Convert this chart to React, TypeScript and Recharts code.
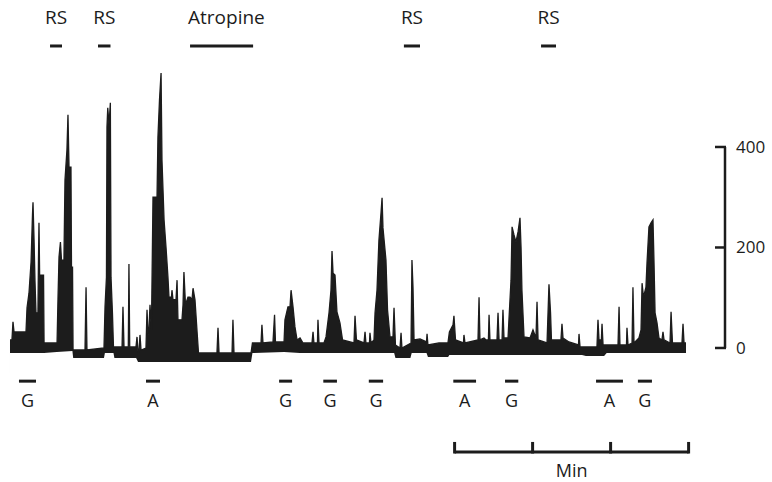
import React from "react";
import { ComposedChart, Area, XAxis, YAxis, ReferenceLine } from "recharts";

// upper edge of the pen trace: [time s, tension]
const upperEdge: [number, number][] = [
  [0, 16], [1.5, 16], [2.3, 52], [3.1, 32], [12.3, 32], [13.1, 80], [14.6, 109], [16.2, 171],
  [17.3, 265], [17.7, 290], [18.5, 215], [19.2, 135], [20, 70], [21.5, 70], [21.9, 175], [22.3, 249],
  [22.8, 145], [25.8, 145], [26.2, 10], [36.2, 10],
  [36.9, 96], [37.7, 181], [38.8, 211], [39.6, 175], [41.5, 175], [42.3, 334], [43.8, 394], [44.6, 464],
  [45.4, 360], [46.9, 360], [47.3, 161], [48.1, 161], [48.5, -4], [57.7, -4], [58.5, 121], [59.2, -4], [72.3, 0],
  [73.1, 82], [74.2, 141], [74.6, 440], [75.2, 478], [76.2, 444], [77.2, 488], [77.7, 141], [78.8, 70],
  [79.6, 2], [86.2, 2], [86.9, 82], [87.7, 2], [91, 2], [91.5, 167], [92.1, 2], [96.9, 2], [97.7, 22], [98.5, -8],
  [99.2, -8], [100, 26], [100.8, -4], [104.6, 0], [105.4, 76], [106.2, 26], [106.9, 36], [107.7, 86],
  [108.8, 36], [110, 300], [113.1, 300], [113.8, 420], [115, 494], [116.2, 547], [116.9, 374], [118.5, 255],
  [120, 201], [121.5, 141], [122.3, 101], [124.2, 101], [124.6, 115], [125.4, 96], [127.7, 96], [128.5, 135],
  [129.2, 56], [132.3, 56], [133.1, 86], [133.8, 151], [135, 86], [136.9, 101], [138.5, 101], [140, 96],
  [140.8, 119], [142.3, 96], [143.8, 36], [145, -10],
  [159.2, -10], [160, 40], [160.8, -10], [170.8, -10], [171.5, 56], [172.3, -10], [185.4, -10], [186.5, 10],
  [193.1, 10], [193.8, 46], [194.6, 10], [202.3, 12], [203.5, 66], [204.2, 12], [210.8, 12],
  [211.5, 56], [213.8, 82], [215.4, 82], [216.2, 115], [217.7, 82], [219.2, 42], [220.8, 16], [223.1, 20],
  [225.4, 10], [232.3, 10], [233.1, 32], [233.8, 10], [236.5, 10], [236.9, 56], [237.7, 10], [241.5, 10],
  [243.1, 22], [245.4, 70], [246.9, 115], [247.7, 193], [248.5, 149], [250, 145], [251.5, 72], [253.8, 50],
  [255.8, 16], [264.6, 10], [265.4, 64], [266.5, 16], [272.3, 10], [273.1, 32], [273.8, 10], [276.5, 10],
  [276.9, 30], [277.7, 10],
  [280, 16], [280.8, 70], [282.3, 115], [283.8, 215], [285.4, 269], [286.2, 299], [286.9, 239], [289.2, 175],
  [290.4, 76], [292.3, 22], [294.6, 22], [295.4, 80], [296.5, 6], [300, 0], [300.8, 30], [301.5, 0],
  [308.5, 10], [309.2, 175], [310, 121], [310.8, 16], [315.4, 18], [320.4, 12], [320.8, 28], [321.5, 6],
  [330, 10], [336.9, 10], [338, 32], [340.8, 46], [341.5, 64], [342.7, 16], [348.8, 10], [349.2, 26], [350, 10],
  [360, 16], [360.8, 101], [361.5, 16], [364.6, 20], [366.2, 16], [368, 16], [368.5, 66], [369.2, 16],
  [374.6, 16], [375.4, 70], [376.2, 16], [378.5, 16], [379.2, 76], [380, 20], [383.1, 20],
  [383.8, 56], [385.4, 135], [386.2, 241], [387.7, 225], [389.2, 211], [390.8, 231], [392.3, 259], [393.1, 201],
  [393.8, 115], [395.4, 22], [400, 20], [402.3, 36], [404.6, 20], [405.4, 92], [406.2, 16],
  [413.1, 10], [414.2, 96], [414.6, 127], [415.8, 70], [416.5, 16], [423.8, 16], [424.6, 48], [425.4, 20],
  [430, 12], [437.3, 6], [437.7, 28], [438.5, 2], [451.5, 2], [452.3, 56], [453.1, 16], [454.9, 16],
  [455.4, 48], [456.2, 6],
  [467.7, 6], [468.5, 82], [469.2, 6], [474.2, 6], [474.6, 40], [475.4, 6], [478.5, 10], [479.2, 121],
  [480, 10], [483.8, 20], [485.4, 36], [486.2, 129], [487.3, 101], [489.2, 121], [490, 169], [491.5, 241],
  [493.1, 249], [494.6, 255], [495.4, 169], [496.2, 70], [497.7, 50], [499.2, 20], [501.5, 16], [502.3, 32],
  [503.1, 16], [507.7, 10], [508.5, 72], [509.6, 10], [516.9, 10], [517.7, 48], [518.5, 10], [520, 10],
];

// lower edge of the pen trace
const lowerEdge: [number, number][] = [
  [0, -10], [26.2, -10], [36, -8], [48, -6], [48.6, -20], [72.3, -20], [73, -10], [79.6, -10],
  [80.3, -20], [97, -20], [98.5, -28], [185.4, -28], [186.5, -10], [210.8, -8], [223, -10], [295.5, -10],
  [296.5, -20], [308, -20], [309, -10], [320.4, -10], [321.5, -18], [337, -18], [338, -14], [440, -14],
  [443, -16], [457, -16], [459, -10], [520, -10],
];

// stimulus / drug bars above the trace
const topMarks = [
  { label: "RS", start: 30.8, end: 40 },
  { label: "RS", start: 67.7, end: 77.3 },
  { label: "Atropine", start: 138.5, end: 187 },
  { label: "RS", start: 303, end: 315.4 },
  { label: "RS", start: 408.5, end: 420 },
];

// G / A applications below the trace
const bottomMarks = [
  { label: "G", start: 6.9, end: 20 },
  { label: "A", start: 104.6, end: 115.4 },
  { label: "G", start: 207, end: 217 },
  { label: "G", start: 241, end: 251.5 },
  { label: "G", start: 276, end: 287 },
  { label: "A", start: 341, end: 358.5 },
  { label: "G", start: 380.8, end: 391 },
  { label: "A", start: 450.8, end: 471.5 },
  { label: "G", start: 483, end: 493.8 },
];

const minuteTicks = [342, 402, 462, 522];
const tensionTicks = [0, 200, 400];

const INK = "#1c1c1c";
const FONT = "'Open Sans', 'DejaVu Sans', sans-serif";

const TOP_Y = 601;
const BOTTOM_Y = -66;
const MIN_Y = -207;

function box(viewBox: any) {
  const x = viewBox.x ?? Math.min(viewBox.x1, viewBox.x2);
  const y = viewBox.y ?? Math.min(viewBox.y1, viewBox.y2);
  const width = viewBox.width ?? Math.abs(viewBox.x2 - viewBox.x1);
  return { x, y, width };
}

function markLabel(text: string, where: "top" | "bottom" | "min") {
  return (props: any) => {
    const { x, y, width } = box(props.viewBox);
    const wide = text === "Atropine";
    const ty = where === "top" ? y - 22 : where === "bottom" ? y + 26 : y + 25;
    return (
      <text
        x={wide ? x - 2 : x + width / 2}
        y={ty}
        textAnchor={wide ? "start" : "middle"}
        fontFamily={FONT}
        fontSize={where === "top" ? 19 : 18}
        fill={INK}
      >
        {text}
      </text>
    );
  };
}

function TensionTick(props: any) {
  const { x, y, payload } = props;
  return (
    <g>
      <line x1={x - 10} x2={x + 1} y1={y} y2={y} stroke={INK} strokeWidth={2.5} />
      <text x={x + 11} y={y + 6} fontFamily={FONT} fontSize={17} fill={INK}>
        {payload.value}
      </text>
    </g>
  );
}

export default function App() {
  const upper = upperEdge.map(([t, v]) => ({ t, v }));
  const lower = lowerEdge.map(([t, v]) => ({ t, v }));

  return (
    <div style={{ position: "absolute", left: 0, top: 0, background: "#fff" }}>
      <ComposedChart width={772} height={482} margin={{ top: 0, right: 0, bottom: 0, left: 0 }}>
        <XAxis dataKey="t" type="number" domain={[-7.69, 550]} allowDataOverflow hide />
        <YAxis
          orientation="right"
          width={47}
          type="number"
          domain={[-266.7, 692.5]}
          allowDataOverflow
          ticks={tensionTicks}
          interval={0}
          axisLine={false}
          tickLine={false}
          tickSize={0}
          tickMargin={0}
          tick={<TensionTick />}
        />
        <Area
          data={upper}
          dataKey="v"
          type="linear"
          baseValue={-50}
          stroke={INK}
          strokeWidth={1.3}
          fill={INK}
          fillOpacity={1}
          isAnimationActive={false}
          dot={false}
          activeDot={false}
        />
        <Area
          data={lower}
          dataKey="v"
          type="linear"
          baseValue={-50}
          stroke="none"
          fill="#ffffff"
          fillOpacity={1}
          isAnimationActive={false}
          dot={false}
          activeDot={false}
        />
        <ReferenceLine
          segment={[{ x: 550, y: 0 }, { x: 550, y: 400 }]}
          stroke={INK}
          strokeWidth={2.5}
          ifOverflow="visible"
        />
        {topMarks.map((m, i) => (
          <ReferenceLine
            key={"top" + i}
            segment={[{ x: m.start, y: TOP_Y }, { x: m.end, y: TOP_Y }]}
            stroke={INK}
            strokeWidth={3}
            ifOverflow="visible"
            label={markLabel(m.label, "top")}
          />
        ))}
        {bottomMarks.map((m, i) => (
          <ReferenceLine
            key={"bot" + i}
            segment={[{ x: m.start, y: BOTTOM_Y }, { x: m.end, y: BOTTOM_Y }]}
            stroke={INK}
            strokeWidth={3}
            ifOverflow="visible"
            label={markLabel(m.label, "bottom")}
          />
        ))}
        <ReferenceLine
          segment={[{ x: minuteTicks[0], y: MIN_Y }, { x: minuteTicks[minuteTicks.length - 1], y: MIN_Y }]}
          stroke={INK}
          strokeWidth={3}
          ifOverflow="visible"
          label={markLabel("Min", "min")}
        />
        {minuteTicks.map((t) => (
          <ReferenceLine
            key={"min" + t}
            segment={[{ x: t, y: MIN_Y - 3 }, { x: t, y: MIN_Y + 20 }]}
            stroke={INK}
            strokeWidth={3}
            ifOverflow="visible"
          />
        ))}
      </ComposedChart>
    </div>
  );
}
